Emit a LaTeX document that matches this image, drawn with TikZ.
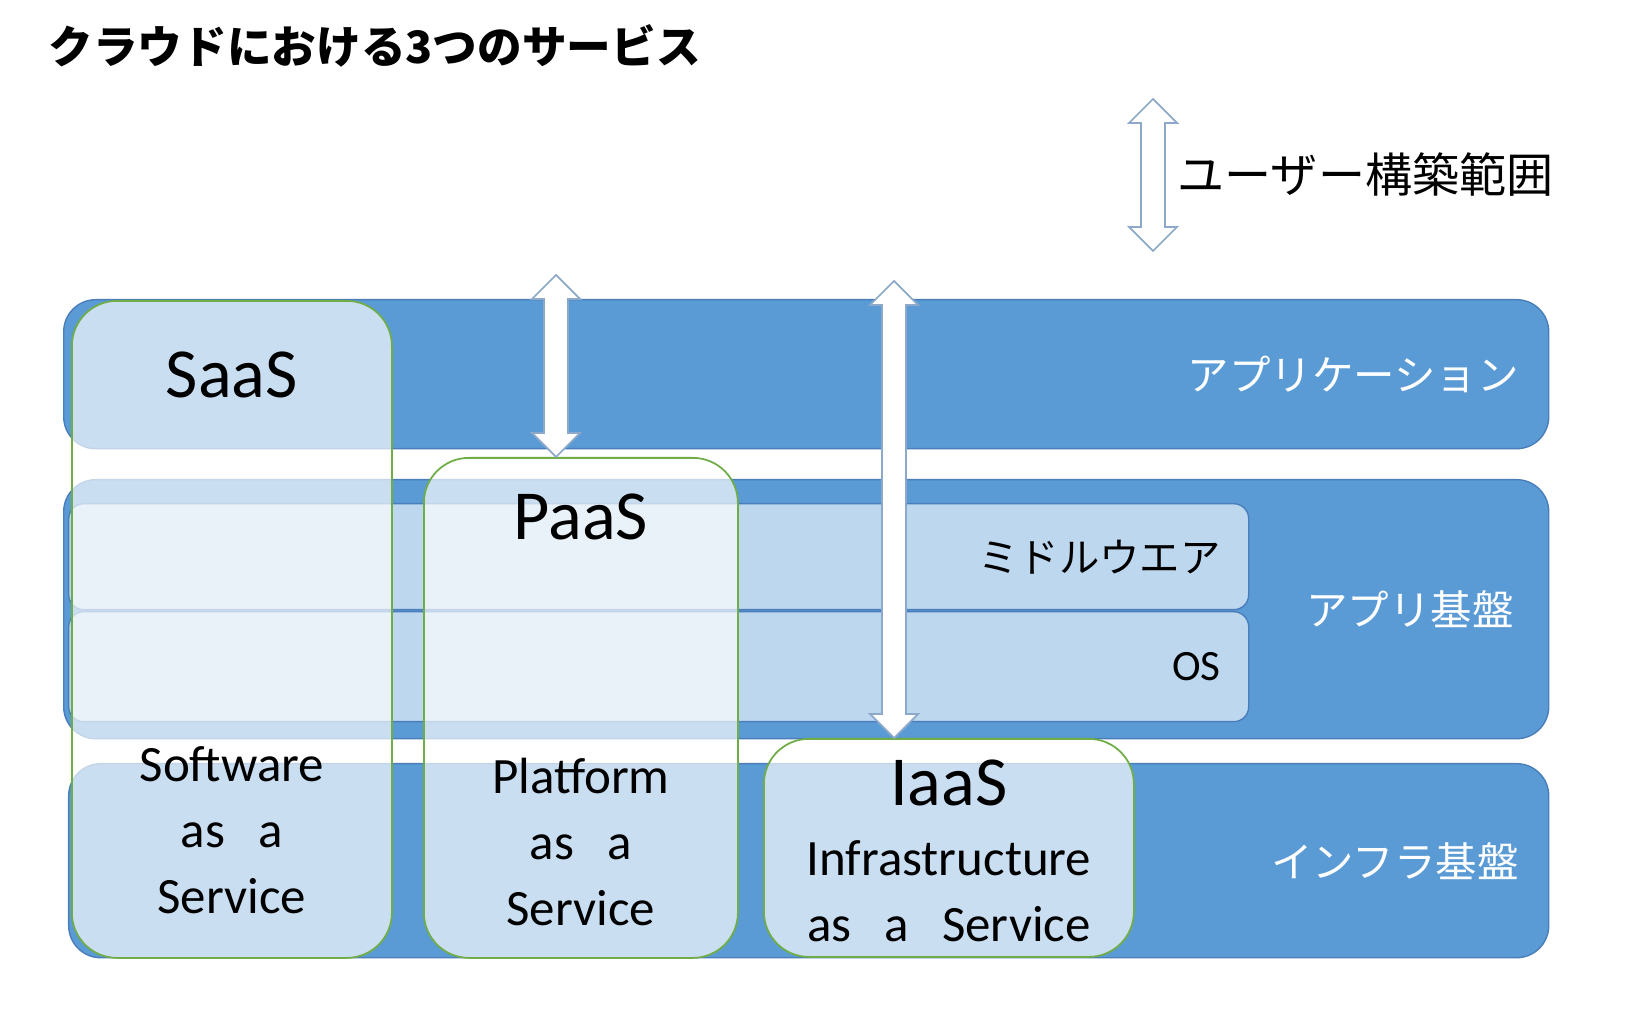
\documentclass[tikz,border=0pt]{standalone}
\usepackage{fontspec}
\setmainfont{Carlito}
\newfontfamily\jpfont{Noto Sans CJK JP}
\usetikzlibrary{calc, positioning}

\definecolor{bandblue}{HTML}{5B9BD5}
\definecolor{bandline}{HTML}{4A7EBB}
\definecolor{subblue}{HTML}{BDD7EE}
\definecolor{svcgreen}{HTML}{70AD47}
\definecolor{arrowline}{HTML}{8DA9C9}

\def\headw{0.24cm}
\def\shaftw{0.12cm}
\def\headl{0.24cm}
\newcommand{\wsp}{\hspace{0.65em}}

\tikzset{
  band/.style={draw=bandline, line width=0.4pt, fill=bandblue, rounded corners=0.32cm,
    anchor=north west, inner sep=0pt},
  subband/.style={draw=bandline, line width=0.4pt, fill=subblue, rounded corners=0.15cm,
    anchor=north west, inner sep=0pt},
  svcbox/.style={draw=svcgreen, line width=0.5pt, fill=white, fill opacity=0.68,
    draw opacity=1, rounded corners=0.45cm, anchor=north west, inner sep=0pt},
  bandlabel/.style={text=white, font=\jpfont\fontsize{11.8}{14}\selectfont,
    anchor=east, inner sep=0pt},
  sublabel/.style={font=\jpfont\fontsize{11.5}{14}\selectfont, anchor=east, inner sep=0pt},
  svcname/.style={font=\fontsize{20}{24}\selectfont, anchor=base, inner sep=0pt},
  svcfull/.style={font=\fontsize{14.5}{18.8}\selectfont, align=center, anchor=south,
    inner sep=0pt},
  blockarrow/.style={draw=arrowline, fill=white, line width=0.5pt,
    to path={let \p1=(\tikztostart), \p2=(\tikztotarget) in
      (\x1,\y1) -- (\x1+\headw,\y1-\headl) -- (\x1+\shaftw,\y1-\headl)
      -- (\x1+\shaftw,\y2+\headl) -- (\x1+\headw,\y2+\headl) -- (\x1,\y2)
      -- (\x1-\headw,\y2+\headl) -- (\x1-\shaftw,\y2+\headl)
      -- (\x1-\shaftw,\y1-\headl) -- (\x1-\headw,\y1-\headl) -- cycle}}
}

\begin{document}
\begin{tikzpicture}
    \useasboundingbox (0,0) rectangle (16.39,10.30);
    \node [anchor=west, inner sep=0pt, font=\jpfont\bfseries\fontsize{12.7}{16}\selectfont]
      (title) at (0.48,9.84) {クラウドにおける3つのサービス};

    \node [band, minimum width=14.85cm, minimum height=1.49cm] (app) at (0.63,7.31) {};
    \node [band, minimum width=14.85cm, minimum height=2.59cm] (base) at (0.63,5.51) {};
    \node [band, minimum width=14.80cm, minimum height=1.94cm] (infra) at (0.68,2.67) {};
    \node [subband, minimum width=11.80cm, minimum height=1.06cm] (mw) at (0.68,5.27) {};
    \node [subband, minimum width=11.80cm, minimum height=1.10cm] (os) at (0.68,4.19) {};

    \node [svcbox, minimum width=3.20cm, minimum height=6.57cm] (saas) at (0.71,7.30) {};
    \node [svcbox, minimum width=3.14cm, minimum height=5.00cm] (paas) at (4.23,5.73) {};
    \node [svcbox, minimum width=3.70cm, minimum height=2.18cm] (iaas) at (7.63,2.92) {};

    \coordinate (paastop) at (5.56,7.55);
    \coordinate (iaastop) at (8.94,7.49);
    \coordinate (usertop) at (11.53,9.31);
    \coordinate (userbot) at (11.53,7.79);
    \draw [blockarrow] (paastop) to (paastop |- paas.north);
    \draw [blockarrow] (iaastop) to (iaastop |- iaas.north);
    \draw [blockarrow] (usertop) to (userbot);
    \node [anchor=west, inner sep=0pt, font=\jpfont\fontsize{13.4}{16}\selectfont]
      (userlbl) at ([xshift=0.24cm]$(usertop)!0.5!(userbot)$) {ユーザー構築範囲};

    \node [bandlabel] (applbl) at ([xshift=-0.30cm]app.east) {アプリケーション};
    \node [bandlabel] (baselbl) at ([xshift=-0.35cm]base.east) {アプリ基盤};
    \node [bandlabel] (infralbl) at ([xshift=-0.30cm]infra.east) {インフラ基盤};
    \node [sublabel] (mwlbl) at ([xshift=-0.28cm]mw.east) {ミドルウエア};
    \node [anchor=east, inner sep=0pt, font=\fontsize{12.3}{15}\selectfont]
      (oslbl) at ([xshift=-0.28cm]os.east) {OS};

    \node [svcname] (saasname) at ([yshift=-0.98cm]saas.north) {SaaS};
    \node [svcname] (paasname) at ([yshift=-0.83cm]paas.north) {PaaS};
    \node [svcname] (iaasname) at ([yshift=-0.67cm]iaas.north) {IaaS};
    \node [svcfull] (saasfull) at ([yshift=0.44cm]saas.south) {Software\\as\wsp a\\Service};
    \node [svcfull] (paasfull) at ([yshift=0.32cm]paas.south) {Platform\\as\wsp a\\Service};
    \node [svcfull] (iaasfull) at ([yshift=0.15cm]iaas.south) {Infrastructure\\as\wsp a\wsp Service};
\end{tikzpicture}
\end{document}
